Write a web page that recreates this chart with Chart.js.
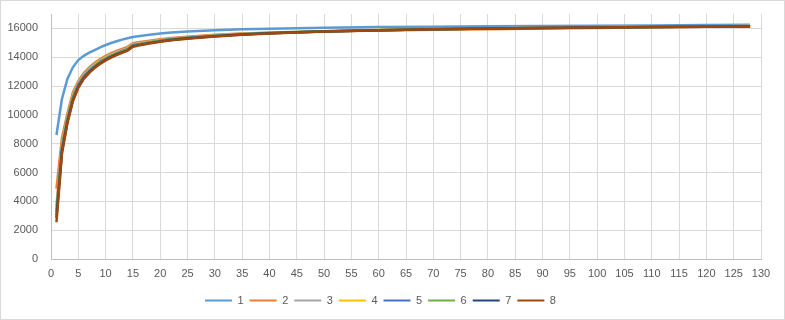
<!DOCTYPE html>
<html>
<head>
<meta charset="utf-8">
<script src="https://cdn.jsdelivr.net/npm/chart.js@4.4.1/dist/chart.umd.min.js"></script>
<style>
  html, body { margin: 0; padding: 0; background: #fff; }
  canvas { display: block; }
</style>
</head>
<body>
<canvas id="c" width="785" height="320"></canvas>
<script>
// x positions (points per series)
const xValues = [1, 2, 3, 4, 5, 6, 7, 8, 9, 10, 11, 12, 13, 14, 15, 16, 18, 20, 22, 25, 30, 35, 40, 45, 50, 60, 70, 80, 90, 100, 110, 120, 128]

const series1 = [8600, 11100, 12500, 13300, 13800, 14100, 14320, 14500, 14680, 14850, 14990, 15110, 15220, 15320, 15400, 15460, 15560, 15640, 15710, 15790, 15880, 15940, 15980, 16010, 16040, 16090, 16120, 16150, 16170, 16190, 16210, 16230, 16250]
const series2 = [4880, 8400, 10100, 11550, 12350, 12900, 13300, 13620, 13880, 14100, 14280, 14440, 14580, 14720, 14980, 15040, 15150, 15250, 15330, 15430, 15560, 15640, 15700, 15740, 15780, 15850, 15900, 15950, 15990, 16030, 16080, 16120, 16140]
const series3 = [3700, 8050, 9900, 11400, 12250, 12800, 13200, 13530, 13800, 14020, 14200, 14370, 14510, 14650, 14920, 14980, 15100, 15200, 15290, 15400, 15530, 15630, 15700, 15760, 15810, 15890, 15950, 16000, 16040, 16080, 16110, 16140, 16160]
const series4 = [3450, 7900, 9800, 11300, 12150, 12720, 13130, 13460, 13730, 13960, 14150, 14320, 14460, 14600, 14870, 14940, 15060, 15170, 15260, 15370, 15510, 15610, 15690, 15750, 15800, 15890, 15950, 16000, 16040, 16070, 16100, 16130, 16160]
const series5 = [3250, 7750, 9700, 11200, 12100, 12660, 13070, 13400, 13680, 13910, 14100, 14270, 14420, 14560, 14830, 14900, 15030, 15140, 15240, 15350, 15490, 15600, 15680, 15740, 15800, 15880, 15950, 16000, 16040, 16070, 16100, 16130, 16150]
const series6 = [3050, 7600, 9600, 11100, 12000, 12600, 13010, 13350, 13630, 13860, 14060, 14230, 14380, 14520, 14790, 14870, 15000, 15120, 15220, 15330, 15470, 15590, 15670, 15740, 15790, 15880, 15940, 15990, 16030, 16070, 16100, 16130, 16150]
const series7 = [2850, 7450, 9500, 11000, 11950, 12550, 12960, 13300, 13580, 13820, 14020, 14190, 14340, 14480, 14760, 14840, 14980, 15100, 15200, 15310, 15460, 15570, 15660, 15730, 15790, 15880, 15940, 15990, 16030, 16060, 16090, 16120, 16150]
const series8 = [2550, 7300, 9400, 10950, 11880, 12500, 12920, 13260, 13540, 13780, 13980, 14150, 14310, 14450, 14730, 14810, 14950, 15070, 15180, 15290, 15440, 15560, 15650, 15720, 15780, 15870, 15940, 15990, 16030, 16060, 16090, 16120, 16140]

const seriesNames = ['1', '2', '3', '4', '5', '6', '7', '8']
const seriesColors = ['#5B9BD5', '#ED7D31', '#A5A5A5', '#FFC000', '#4472C4', '#70AD47', '#264478', '#9E480E']
const allSeries = [series1, series2, series3, series4, series5, series6, series7, series8]

const yTickValues = [0, 2000, 4000, 6000, 8000, 10000, 12000, 14000, 16000]
const xMin = 0, xMax = 130, xStep = 5
const yMin = 0, yMax = 17000

const textColor = '#595959'
const gridColor = '#D9D9D9'
const fontFamily = "'Liberation Sans', Arial, sans-serif"

const datasets = allSeries.map((vals, i) => ({
  label: seriesNames[i],
  data: xValues.map((x, j) => ({ x, y: vals[j] })),
  borderColor: seriesColors[i],
  backgroundColor: seriesColors[i],
  borderWidth: 2.5,
  pointRadius: 0,
  tension: 0,
  order: allSeries.length - i   // later series drawn on top, like the original
}))

const chartFrame = {
  id: 'chartFrame',
  beforeDraw(chart) {
    const ctx = chart.ctx
    ctx.save()
    ctx.fillStyle = '#fff'
    ctx.fillRect(0, 0, chart.width, chart.height)
    ctx.restore()
  },
  afterDraw(chart) {
    const ctx = chart.ctx
    ctx.save()
    ctx.strokeStyle = gridColor
    ctx.lineWidth = 1
    ctx.strokeRect(0.5, 0.5, chart.width - 1, chart.height - 1)
    ctx.restore()
  }
}

new Chart(document.getElementById('c').getContext('2d'), {
  type: 'line',
  data: { datasets },
  options: {
    responsive: false,
    devicePixelRatio: 1,
    animation: false,
    layout: { padding: { left: 0, right: 24, top: 14, bottom: 4 } },
    plugins: {
      legend: {
        position: 'bottom',
        labels: {
          boxWidth: 27,
          boxHeight: 2,
          padding: 6,
          color: textColor,
          font: { family: fontFamily, size: 11 },
          sort: (a, b) => a.datasetIndex - b.datasetIndex,
          generateLabels(chart) {
            const items = Chart.defaults.plugins.legend.labels.generateLabels(chart)
            items.forEach(it => { it.lineWidth = 0 })
            return items
          }
        }
      },
      tooltip: { enabled: false }
    },
    scales: {
      x: {
        type: 'linear',
        min: xMin,
        max: xMax,
        afterFit(scale) { scale.height = 30 },
        ticks: { stepSize: xStep, color: textColor, font: { family: fontFamily, size: 11 }, padding: 8, maxRotation: 0 },
        grid: { color: gridColor, drawTicks: false },
        border: { color: '#BFBFBF' }
      },
      y: {
        min: yMin,
        max: yMax,
        afterFit(scale) {
          scale.width = 51
          scale.paddingTop = 0
          scale.paddingBottom = 0
        },
        afterBuildTicks(scale) { scale.ticks = yTickValues.map(v => ({ value: v })) },
        ticks: { color: textColor, font: { family: fontFamily, size: 11 }, padding: 13, callback: v => String(v) },
        grid: { color: gridColor, drawTicks: false },
        border: { color: '#BFBFBF' }
      }
    }
  },
  plugins: [chartFrame]
})
</script>
</body>
</html>
